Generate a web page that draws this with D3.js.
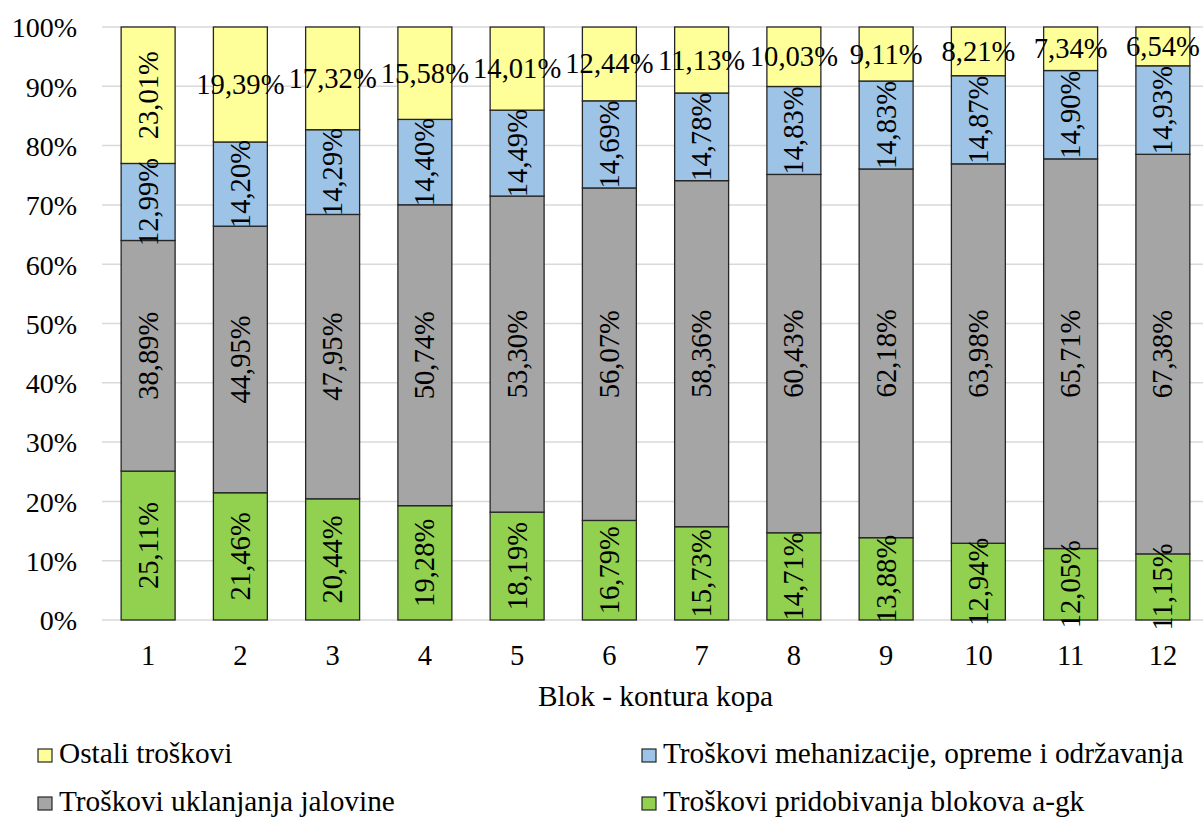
<!DOCTYPE html>
<html><head><meta charset="utf-8">
<script src="https://cdn.jsdelivr.net/npm/d3@7"></script>
<style>body{margin:0;background:#fff}svg{display:block}</style>
</head><body>
<svg id="c" width="1203" height="819"></svg>
<script>
const categories = ["1","2","3","4","5","6","7","8","9","10","11","12"];
const pridobivanja = [25.11,21.46,20.44,19.28,18.19,16.79,15.73,14.71,13.88,12.94,12.05,11.15];
const jalovina = [38.89,44.95,47.95,50.74,53.30,56.07,58.36,60.43,62.18,63.98,65.71,67.38];
const mehanizacija = [12.99,14.20,14.29,14.40,14.49,14.69,14.78,14.83,14.83,14.87,14.90,14.93];
const ostali = [23.01,19.39,17.32,15.58,14.01,12.44,11.13,10.03,9.11,8.21,7.34,6.54];
const yTicks = [0,10,20,30,40,50,60,70,80,90,100];
const seriesNames = ["Troškovi pridobivanja blokova a-gk","Troškovi uklanjanja jalovine","Troškovi mehanizacije, opreme i održavanja","Ostali troškovi"];
const seriesColors = ["#92D050","#A5A5A5","#9DC3E6","#FFFF99"];
const seriesValues = [pridobivanja, jalovina, mehanizacija, ostali];

const FONT = "'Liberation Serif'";
const svg = d3.select("#c");
const x = d3.scaleBand().domain(categories).range([102,1209]).paddingInner(0.415).paddingOuter(0.2075);
const y = d3.scaleLinear().domain([0,100]).range([620,27]);

svg.append("g").selectAll("line").data(yTicks).join("line")
  .attr("x1",102).attr("x2",1203).attr("y1",d=>y(d)).attr("y2",d=>y(d))
  .attr("stroke","#D9D9D9").attr("stroke-width",1.5);

const yAxis = d3.axisLeft(y).tickValues(yTicks).tickFormat(d=>d+"%").tickSize(0).tickPadding(0);
const ya = svg.append("g").attr("transform","translate(77,0)").call(yAxis);
ya.attr("font-family",null).attr("font-size",null);
ya.select(".domain").remove();
ya.selectAll("text").style("font-family",FONT).style("font-size","28px").attr("fill","#000").attr("dy","0.35em");

const rows = categories.map((c,i)=>{const o={cat:c}; seriesValues.forEach((s,j)=>o["s"+j]=s[i]); return o;});
const stack = d3.stack().keys(seriesNames.map((_,j)=>"s"+j))(rows);
const g = svg.append("g");
stack.forEach((layer,j)=>{
  g.append("g").selectAll("rect").data(layer).join("rect")
    .attr("x",d=>x(d.data.cat)).attr("width",x.bandwidth())
    .attr("y",d=>y(d[1])).attr("height",d=>y(d[0])-y(d[1]))
    .attr("fill",seriesColors[j]).attr("stroke","#262626").attr("stroke-width",1.3);
});
const lg = svg.append("g");
stack.forEach((layer,j)=>{
  layer.forEach(d=>{
    const v = d[1]-d[0];
    const cx = x(d.data.cat)+x.bandwidth()/2;
    const cy = y((d[0]+d[1])/2);
    const txt = v.toFixed(2).replace(".",",")+"%";
    const horiz = (j===3 && v<20);
    const t = lg.append("text").text(txt).attr("text-anchor","middle")
      .attr("dominant-baseline","central").style("font-family",FONT).style("font-size","28.6px").attr("fill","#000");
    if(horiz) t.attr("x",cx).attr("y",cy);
    else t.attr("transform",`translate(${cx},${cy}) rotate(-90)`);
  });
});

const xAxis = d3.axisBottom(x).tickSize(0).tickPadding(0);
const xa = svg.append("g").attr("transform","translate(0,665)").call(xAxis);
xa.attr("font-family",null).attr("font-size",null);
xa.select(".domain").remove();
xa.selectAll("text").style("font-family",FONT).style("font-size","28.5px").attr("fill","#000").attr("dy","0");

svg.append("text").attr("x",655.5).attr("y",706).attr("text-anchor","middle")
  .style("font-family",FONT).style("font-size","29.3px").attr("fill","#000").text("Blok - kontura kopa");

const legendItems = [
  {name:seriesNames[3], color:seriesColors[3], x:38, y:763},
  {name:seriesNames[2], color:seriesColors[2], x:642, y:763},
  {name:seriesNames[1], color:seriesColors[1], x:38, y:811},
  {name:seriesNames[0], color:seriesColors[0], x:642, y:811}
];
const leg = svg.append("g");
legendItems.forEach(it=>{
  leg.append("rect").attr("x",it.x).attr("y",it.y-14).attr("width",14).attr("height",13)
    .attr("fill",it.color).attr("stroke","#262626").attr("stroke-width",1.2);
  leg.append("text").attr("x",it.x+21).attr("y",it.y).style("font-family",FONT)
    .style("font-size","29.3px").attr("fill","#000").text(it.name);
});
</script>
</body></html>
